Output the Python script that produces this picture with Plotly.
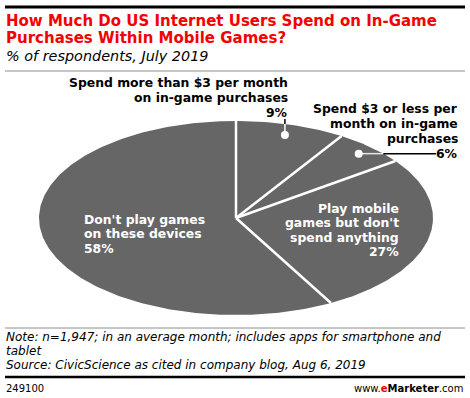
import numpy as np
import plotly.graph_objects as go

# ---- data ----
labels = [
    "Spend more than $3 per month on in-game purchases",
    "Spend $3 or less per month on in-game purchases",
    "Play mobile games but don't spend anything",
    "Don't play games on these devices",
]
values = [9, 6, 27, 58]

title_lines = ["How Much Do US Internet Users Spend on In-Game",
               "Purchases Within Mobile Games?"]
subtitle = "% of respondents, July 2019"
note_lines = ["Note: n=1,947; in an average month; includes apps for smartphone and",
              "tablet",
              "Source: CivicScience as cited in company blog, Aug 6, 2019"]
chart_id = "249100"

# ---- style ----
W, H = 470, 398
CX, CY, RX, RY = 236, 218, 197, 97   # ellipse (squashed pie) geometry in px
SLICE = "#666666"
RED = "#f50000"
FONT = "DejaVu Sans"

fig = go.Figure()

total = float(sum(values))
cum = 0.0
angles = []
for lab, v in zip(labels, values):
    a0 = cum / total * 2 * np.pi
    a1 = (cum + v) / total * 2 * np.pi
    t = np.linspace(a0, a1, max(int(v * 4), 12))
    xs = np.concatenate([[CX], CX + RX * np.sin(t), [CX]])
    ys = np.concatenate([[CY], CY - RY * np.cos(t), [CY]])
    fig.add_trace(go.Scatter(x=xs, y=ys, fill="toself", fillcolor=SLICE,
                             mode="lines", line=dict(width=0, color=SLICE),
                             name=lab, hovertemplate=f"{lab}: {v}%<extra></extra>"))
    angles.append((a0, a1))
    cum += v

# white separators
for a0, a1 in angles:
    fig.add_trace(go.Scatter(x=[CX, CX + RX * np.sin(a0)], y=[CY, CY - RY * np.cos(a0)],
                             mode="lines", line=dict(color="white", width=2.5),
                             hoverinfo="skip"))


def slice_point(i, r):
    a0, a1 = angles[i]
    m = (a0 + a1) / 2
    return CX + RX * r * np.sin(m), CY - RY * r * np.cos(m)


def edge_y(x):
    return CY - RY * np.sqrt(max(0.0, 1 - ((x - CX) / RX) ** 2))


def edge_x(y):
    return CX + RX * np.sqrt(max(0.0, 1 - ((y - CY) / RY) ** 2))


# leader for 9%
d1x, d1y = slice_point(0, 0.89)
ey = edge_y(d1x)
fig.add_trace(go.Scatter(x=[d1x, d1x], y=[d1y, ey], mode="lines",
                         line=dict(color="white", width=1.5), hoverinfo="skip"))
fig.add_trace(go.Scatter(x=[d1x, d1x], y=[ey, 119], mode="lines",
                         line=dict(color="black", width=1.5), hoverinfo="skip"))
# leader for 6%
d2x, d2y = slice_point(1, 0.91)
ex = edge_x(d2y)
fig.add_trace(go.Scatter(x=[d2x, ex], y=[d2y, d2y], mode="lines",
                         line=dict(color="#e6e6e6", width=1.5), hoverinfo="skip"))
fig.add_trace(go.Scatter(x=[ex, 436], y=[d2y, d2y], mode="lines",
                         line=dict(color="black", width=1.5), hoverinfo="skip"))
# dots
fig.add_trace(go.Scatter(x=[d1x, d2x], y=[d1y, d2y], mode="markers",
                         marker=dict(color="white", size=8), hoverinfo="skip"))


def text_lines(lines, x, y0, pitch, anchor, size, color, bold=True, italic=False):
    for i, ln in enumerate(lines):
        t = ln
        if bold:
            t = f"<b>{t}</b>"
        if italic:
            t = f"<i>{t}</i>"
        fig.add_annotation(x=x, y=y0 + i * pitch, xref="x", yref="y", text=t,
                           showarrow=False, xanchor=anchor, yanchor="middle",
                           borderpad=0,
                           font=dict(family=FONT, size=size, color=color))


# slice labels
text_lines(["Spend more than $3 per month", "on in-game purchases", f"{values[0]}%"],
           289, 82, 15, "right", 12.4, "black")
text_lines(["Spend $3 or less per", "month on in-game", "purchases", f"{values[1]}%"],
           459, 108, 15, "right", 12.4, "black")
text_lines(["Play mobile", "games but don't", "spend anything", f"{values[2]}%"],
           400, 208, 14.6, "right", 12.4, "white")
text_lines(["Don't play games", "on these devices", f"{values[3]}%"],
           83, 219, 14.6, "left", 12.4, "white")

# title / subtitle
text_lines(title_lines, 5, 20.5, 17, "left", 15, RED)
text_lines([subtitle], 5, 56, 15, "left", 14.4, "black", bold=False, italic=True)

# notes
text_lines(note_lines, 5, 337, 14, "left", 12, "black", bold=False, italic=True)
text_lines([chart_id], 5, 388, 14, "left", 10, "black", bold=False)
fig.add_annotation(x=464, y=388, xref="x", yref="y",
                   text=f"www.<b><span style='color:{RED}'>e</span>Marketer</b>.com",
                   showarrow=False, xanchor="right", yanchor="middle", borderpad=0,
                   font=dict(family=FONT, size=10, color="black"))

# rules
for y, c, w in [(7, "black", 3), (71, "#8c8c8c", 1), (328, "#8c8c8c", 1), (377, "black", 2.5)]:
    fig.add_shape(type="line", xref="x", yref="y", x0=5, x1=465, y0=y, y1=y,
                  line=dict(color=c, width=w))

fig.update_layout(
    width=W, height=H, margin=dict(l=0, r=0, t=0, b=0),
    paper_bgcolor="white", plot_bgcolor="white", showlegend=False,
    xaxis=dict(range=[0, W], visible=False, fixedrange=True),
    yaxis=dict(range=[H, 0], visible=False, fixedrange=True),
)

fig.write_html("out.html", config={"displayModeBar": False},
               post_script="document.body.style.margin='0';document.body.style.overflow='hidden';")
